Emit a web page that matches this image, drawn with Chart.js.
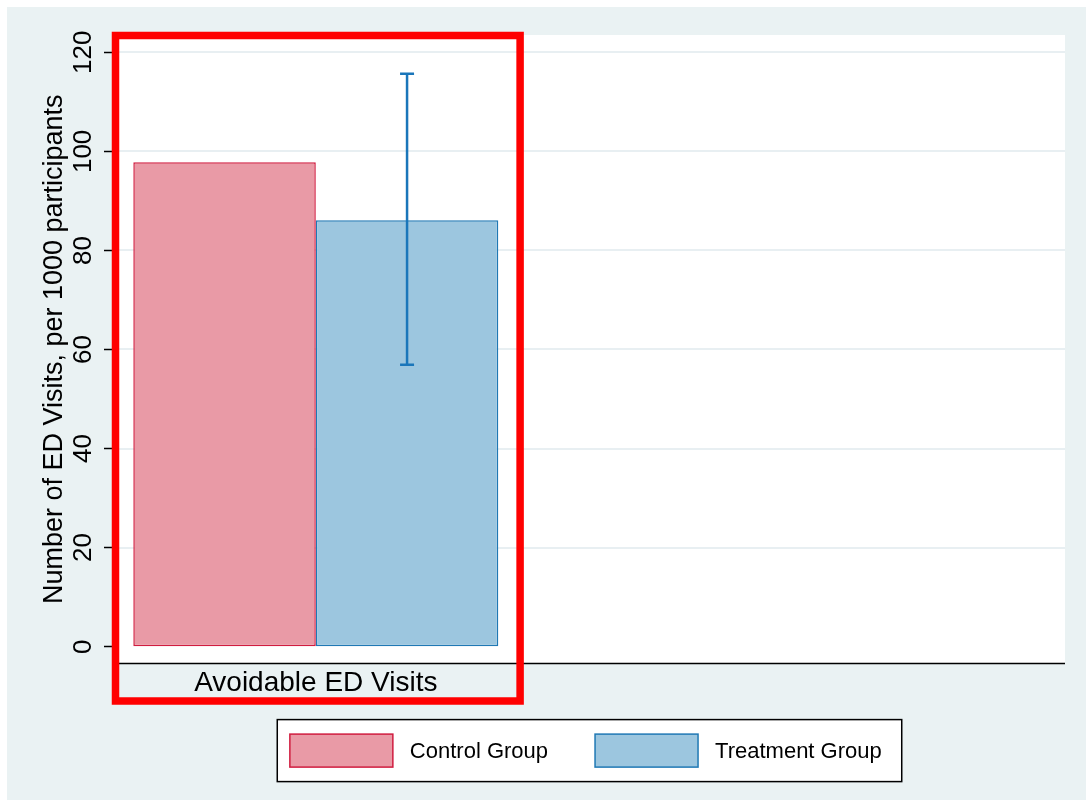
<!DOCTYPE html>
<html>
<head>
<meta charset="utf-8">
<title>Avoidable ED Visits</title>
<script src="https://cdn.jsdelivr.net/npm/chart.js@4.4.1/dist/chart.umd.min.js"></script>
<style>
    html, body { margin: 0; padding: 0; background: #ffffff; }
    canvas { display: block; }
</style>
</head>
<body>
<canvas id="edChart" width="1086" height="800"></canvas>
<script>
// ──────────────────────────────────────
// Data
// ──────────────────────────────────────

const categories = ['Avoidable ED Visits'];
const controlValues = [97.8];
const treatmentValues = [86.1];
const treatmentCiLow = [56.9];
const treatmentCiHigh = [115.7];
const yTicks = [0, 20, 40, 60, 80, 100, 120];

// ──────────────────────────────────────
// Look (Stata s2color-ish)
// ──────────────────────────────────────

const FONT = "'Liberation Sans', Arial, Helvetica, sans-serif";
const COLORS = {
    page: '#ffffff',
    region: '#eaf2f3',
    grid: '#e8eff2',
    axis: '#000000',
    controlFill: '#e99aa6',
    controlLine: '#d01c3f',
    treatFill: '#9cc6df',
    treatLine: '#1f78b4',
    errorBar: '#1a76ba',
    highlight: '#ff0000',
};

const PLOT_RIGHT = 1065;   // plot region keeps going past the one category band

Chart.defaults.font.family = FONT;
Chart.defaults.color = '#000';

// background, extended plot region, grid, error bars, red box, legend
const stataFrame = {
    id: 'stataFrame',
    beforeDraw(chart) {
        const { ctx, chartArea } = chart;
        const y = chart.scales.y;
        ctx.save();
        ctx.fillStyle = COLORS.page;
        ctx.fillRect(0, 0, chart.width, chart.height);
        ctx.fillStyle = COLORS.region;
        ctx.fillRect(7, 7, chart.width - 7, chart.height - 7);
        ctx.fillStyle = '#ffffff';
        ctx.fillRect(chartArea.left, chartArea.top, PLOT_RIGHT - chartArea.left, chartArea.bottom - chartArea.top);

        ctx.strokeStyle = COLORS.grid;
        ctx.lineWidth = 2;
        y.ticks.forEach(t => {
            if (t.value === 0) return;
            const py = Math.round(y.getPixelForValue(t.value));
            ctx.beginPath();
            ctx.moveTo(chartArea.left, py);
            ctx.lineTo(PLOT_RIGHT, py);
            ctx.stroke();
        });

        ctx.strokeStyle = COLORS.axis;
        ctx.lineWidth = 1.5;
        ctx.beginPath();
        ctx.moveTo(chartArea.left, chartArea.bottom);
        ctx.lineTo(PLOT_RIGHT, chartArea.bottom);
        ctx.stroke();
        ctx.restore();
    },
    afterDatasetsDraw(chart) {
        const { ctx } = chart;
        const y = chart.scales.y;
        const meta = chart.getDatasetMeta(1);
        ctx.save();
        ctx.strokeStyle = COLORS.errorBar;
        ctx.lineWidth = 2.5;
        meta.data.forEach((bar, i) => {
            const lo = y.getPixelForValue(treatmentCiLow[i]);
            const hi = y.getPixelForValue(treatmentCiHigh[i]);
            ctx.beginPath();
            ctx.moveTo(bar.x, lo);
            ctx.lineTo(bar.x, hi);
            ctx.moveTo(bar.x - 7, lo);
            ctx.lineTo(bar.x + 7, lo);
            ctx.moveTo(bar.x - 7, hi);
            ctx.lineTo(bar.x + 7, hi);
            ctx.stroke();
        });
        ctx.restore();
    },
    afterDraw(chart) {
        const { ctx, chartArea } = chart;
        const x = chart.scales.x;
        ctx.save();

        // highlight box round the category
        ctx.strokeStyle = COLORS.highlight;
        ctx.lineWidth = 7.5;
        const top = chartArea.top + 0.5;
        const bottom = chartArea.bottom + 37.5;
        ctx.strokeRect(x.left - 2.5, top, (x.right + 6.5) - (x.left - 2.5), bottom - top);

        // legend, Stata style: framed, centred under the plot region
        const items = chart.data.datasets;
        const sw = 103, sh = 33, gap = 17, itemGap = 47, padL = 12.6, padR = 20;
        const frameTop = 719.6, frameH = 62;
        ctx.font = '22px ' + FONT;
        const widths = items.map(d => sw + gap + ctx.measureText(d.label).width);
        const total = widths.reduce((a, b) => a + b, 0) + itemGap * (items.length - 1);
        const frameW = total + padL + padR;
        const frameLeft = (chartArea.left + PLOT_RIGHT) / 2 - 2 - frameW / 2;

        ctx.fillStyle = '#ffffff';
        ctx.fillRect(frameLeft, frameTop, frameW, frameH);
        ctx.strokeStyle = '#000';
        ctx.lineWidth = 1.5;
        ctx.strokeRect(frameLeft, frameTop, frameW, frameH);

        let cx = frameLeft + padL;
        const sy = frameTop + (frameH - sh) / 2;
        items.forEach((d, i) => {
            ctx.fillStyle = d.backgroundColor;
            ctx.fillRect(cx, sy, sw, sh);
            ctx.strokeStyle = d.borderColor;
            ctx.lineWidth = 1.5;
            ctx.strokeRect(cx, sy, sw, sh);
            ctx.fillStyle = '#000';
            ctx.textBaseline = 'middle';
            ctx.textAlign = 'left';
            ctx.fillText(d.label, cx + sw + gap, sy + sh / 2 + 1);
            cx += widths[i] + itemGap;
        });
        ctx.restore();
    }
};

new Chart(document.getElementById('edChart'), {
    type: 'bar',
    data: {
        labels: categories,
        datasets: [
            {
                label: 'Control Group',
                data: controlValues,
                backgroundColor: COLORS.controlFill,
                borderColor: COLORS.controlLine,
                borderWidth: 1.5,
                borderSkipped: false,
            },
            {
                label: 'Treatment Group',
                data: treatmentValues,
                backgroundColor: COLORS.treatFill,
                borderColor: COLORS.treatLine,
                borderWidth: 1.5,
                borderSkipped: false,
            }
        ]
    },
    options: {
        responsive: false,
        animation: false,
        devicePixelRatio: 1,
        categoryPercentage: 0.9227,
        barPercentage: 1.0,
        layout: {
            padding: { left: 0, right: 572.4, top: 35, bottom: 91.5 }
        },
        plugins: {
            legend: { display: false },
            tooltip: { enabled: false },
        },
        scales: {
            x: {
                offset: true,
                grid: { display: false },
                border: { display: false },
                ticks: {
                    font: { size: 28, lineHeight: 1 },
                    color: '#000',
                    padding: -2,
                    maxRotation: 0,
                },
                afterFit(scale) { scale.height = 45; }
            },
            y: {
                min: -3.4,
                max: 123.5,
                afterBuildTicks(scale) {
                    scale.ticks = yTicks.map(v => ({ value: v }));
                },
                afterFit(scale) { scale.width = 118; },
                grid: {
                    drawOnChartArea: false,
                    drawTicks: true,
                    tickLength: 14,
                    tickColor: '#000',
                    tickWidth: 1.5,
                },
                border: { display: true, color: '#000', width: 1.5 },
                ticks: {
                    autoSkip: false,
                    minRotation: 90,
                    maxRotation: 90,
                    crossAlign: 'center',
                    padding: -2,
                    font: { size: 26 },
                    color: '#000',
                },
                title: {
                    display: true,
                    text: 'Number of ED Visits, per 1000 participants',
                    font: { size: 27 },
                    color: '#000',
                    padding: { top: 38, bottom: 0 },
                }
            }
        }
    },
    plugins: [stataFrame]
});
</script>
</body>
</html>
